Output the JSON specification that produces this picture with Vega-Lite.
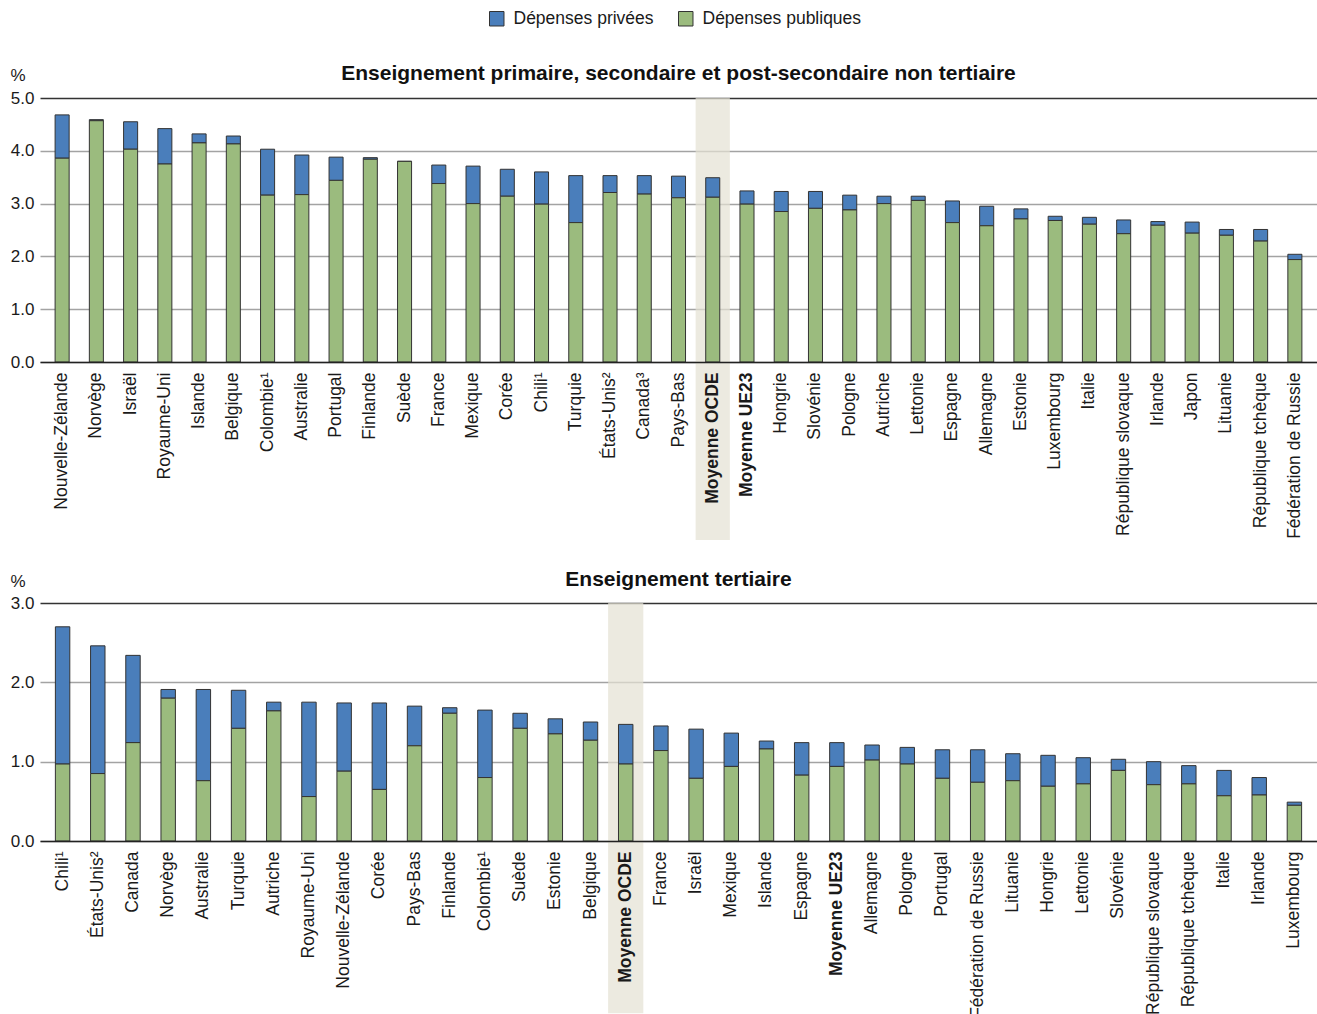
{
  "$schema": "https://vega.github.io/schema/vega-lite/v6.json",
  "padding": 10,
  "spacing": 29,
  "config": {
    "font": "Liberation Sans",
    "view": {"stroke": null},
    "axis": {"labelColor": "#1a1a1a", "titleColor": "#1a1a1a"}
  },
  "vconcat": [
    {
      "data": {"values": [
        {"pays": "Nouvelle-Zélande", "pub": 3.86, "priv": 0.82},
        {"pays": "Norvège", "pub": 4.57, "priv": 0.02},
        {"pays": "Israël", "pub": 4.03, "priv": 0.52},
        {"pays": "Royaume-Uni", "pub": 3.75, "priv": 0.67},
        {"pays": "Islande", "pub": 4.15, "priv": 0.17},
        {"pays": "Belgique", "pub": 4.13, "priv": 0.15},
        {"pays": "Colombie¹", "pub": 3.16, "priv": 0.87},
        {"pays": "Australie", "pub": 3.17, "priv": 0.75},
        {"pays": "Portugal", "pub": 3.44, "priv": 0.44},
        {"pays": "Finlande", "pub": 3.84, "priv": 0.03},
        {"pays": "Suède", "pub": 3.8, "priv": 0.0},
        {"pays": "France", "pub": 3.38, "priv": 0.35},
        {"pays": "Mexique", "pub": 3.0, "priv": 0.71},
        {"pays": "Corée", "pub": 3.14, "priv": 0.51},
        {"pays": "Chili¹", "pub": 2.99, "priv": 0.61},
        {"pays": "Turquie", "pub": 2.64, "priv": 0.89},
        {"pays": "États-Unis²", "pub": 3.21, "priv": 0.32},
        {"pays": "Canada³", "pub": 3.18, "priv": 0.35},
        {"pays": "Pays-Bas", "pub": 3.11, "priv": 0.41},
        {"pays": "Moyenne OCDE", "pub": 3.12, "priv": 0.37},
        {"pays": "Moyenne UE23", "pub": 2.99, "priv": 0.25},
        {"pays": "Hongrie", "pub": 2.85, "priv": 0.38},
        {"pays": "Slovénie", "pub": 2.91, "priv": 0.32},
        {"pays": "Pologne", "pub": 2.88, "priv": 0.28},
        {"pays": "Autriche", "pub": 3.0, "priv": 0.14},
        {"pays": "Lettonie", "pub": 3.06, "priv": 0.08},
        {"pays": "Espagne", "pub": 2.64, "priv": 0.41},
        {"pays": "Allemagne", "pub": 2.58, "priv": 0.37},
        {"pays": "Estonie", "pub": 2.71, "priv": 0.19},
        {"pays": "Luxembourg", "pub": 2.68, "priv": 0.08},
        {"pays": "Italie", "pub": 2.61, "priv": 0.13},
        {"pays": "République slovaque", "pub": 2.43, "priv": 0.26},
        {"pays": "Irlande", "pub": 2.59, "priv": 0.07},
        {"pays": "Japon", "pub": 2.44, "priv": 0.21},
        {"pays": "Lituanie", "pub": 2.4, "priv": 0.11},
        {"pays": "République tchèque", "pub": 2.29, "priv": 0.22},
        {"pays": "Fédération de Russie", "pub": 1.94, "priv": 0.1}
      ]},
      "transform": [{"fold": ["priv", "pub"], "as": ["type", "v"]}],
      "width": 1277,
      "height": 264,
      "title": {"text": "Enseignement primaire, secondaire et post-secondaire non tertiaire", "fontSize": 21, "fontWeight": "bold", "color": "#111", "frame": "group", "anchor": "middle", "offset": -18},
      "encoding": {
        "x": {
          "field": "pays", "type": "nominal", "sort": null,
          "scale": {"paddingInner": 0, "paddingOuter": 0.146},
          "axis": {
            "title": null, "labelAngle": -90, "labelAlign": "right", "labelBaseline": "middle",
            "labelFontSize": 17.5, "labelLimit": 400, "labelPadding": 10, "labelOverlap": false,
            "labelFontWeight": {"condition": {"test": "indexof(datum.value, 'Moyenne') >= 0", "value": "bold"}, "value": "normal"},
            "ticks": false, "domainColor": "#222", "domainWidth": 1.5, "zindex": 1
          }
        }
      },
      "layer": [
        {
          "mark": {"type": "bar", "fill": "#E4E1D3"},
          "encoding": {
            "y": {"datum": 5, "type": "quantitative"},
            "y2": {"datum": -3.37},
            "opacity": {"condition": {"test": "datum.pays === 'Moyenne OCDE' && datum.type === 'pub'", "value": 0.7}, "value": 0}
          }
        },
        {
          "mark": {"type": "bar", "stroke": "#333", "strokeWidth": 1, "width": {"band": 0.41}},
          "encoding": {
            "y": {
              "field": "v", "type": "quantitative", "stack": "zero",
              "scale": {"domain": [0, 5], "nice": false, "zero": true},
              "axis": {
                "values": [0, 0.5, 1, 1.5, 2, 2.5, 3, 3.5, 4, 4.5, 5], "format": ".1f",
                "grid": true, "gridWidth": 1.5, "labelOverlap": false,
                "gridColor": {"condition": {"test": "datum.value == 5", "value": "#333"}, "value": "#a3a3a3"},
                "domain": false, "ticks": false, "labelPadding": 6, "labelFontSize": 17,
                "title": "%", "titleAngle": 0, "titleX": -30, "titleY": -18, "titleAlign": "left", "titleBaseline": "alphabetic",
                "titleFontWeight": "normal", "titleFontSize": 17
              }
            },
            "color": {
              "field": "type", "type": "nominal",
              "scale": {"domain": ["priv", "pub"], "range": ["#4A7EBB", "#9BBB7E"]},
              "legend": {"title": null, "orient": "none", "legendX": 448, "legendY": -88, "direction": "horizontal",
                "labelExpr": "datum.label === 'priv' ? 'Dépenses privées' : 'Dépenses publiques'",
                "symbolType": "square", "symbolSize": 210, "symbolStrokeColor": "#333", "symbolStrokeWidth": 1,
                "labelFontSize": 17.5, "labelColor": "#1a1a1a", "labelOffset": 8, "columnPadding": 22}
            }
          }
        }
      ]
    },
    {
      "data": {"values": [
        {"pays": "Chili¹", "pub": 0.97, "priv": 1.73},
        {"pays": "États-Unis²", "pub": 0.85, "priv": 1.61},
        {"pays": "Canada", "pub": 1.24, "priv": 1.1},
        {"pays": "Norvège", "pub": 1.8, "priv": 0.11},
        {"pays": "Australie", "pub": 0.76, "priv": 1.15},
        {"pays": "Turquie", "pub": 1.42, "priv": 0.48},
        {"pays": "Autriche", "pub": 1.64, "priv": 0.11},
        {"pays": "Royaume-Uni", "pub": 0.56, "priv": 1.19},
        {"pays": "Nouvelle-Zélande", "pub": 0.88, "priv": 0.86},
        {"pays": "Corée", "pub": 0.65, "priv": 1.09},
        {"pays": "Pays-Bas", "pub": 1.2, "priv": 0.5},
        {"pays": "Finlande", "pub": 1.61, "priv": 0.07},
        {"pays": "Colombie¹", "pub": 0.8, "priv": 0.85},
        {"pays": "Suède", "pub": 1.42, "priv": 0.19},
        {"pays": "Estonie", "pub": 1.35, "priv": 0.19},
        {"pays": "Belgique", "pub": 1.27, "priv": 0.23},
        {"pays": "Moyenne OCDE", "pub": 0.97, "priv": 0.5},
        {"pays": "France", "pub": 1.14, "priv": 0.31},
        {"pays": "Israël", "pub": 0.79, "priv": 0.62},
        {"pays": "Mexique", "pub": 0.94, "priv": 0.42},
        {"pays": "Islande", "pub": 1.16, "priv": 0.1},
        {"pays": "Espagne", "pub": 0.83, "priv": 0.41},
        {"pays": "Moyenne UE23", "pub": 0.94, "priv": 0.3},
        {"pays": "Allemagne", "pub": 1.02, "priv": 0.19},
        {"pays": "Pologne", "pub": 0.97, "priv": 0.21},
        {"pays": "Portugal", "pub": 0.79, "priv": 0.36},
        {"pays": "Fédération de Russie", "pub": 0.74, "priv": 0.41},
        {"pays": "Lituanie", "pub": 0.76, "priv": 0.34},
        {"pays": "Hongrie", "pub": 0.69, "priv": 0.39},
        {"pays": "Lettonie", "pub": 0.72, "priv": 0.33},
        {"pays": "Slovénie", "pub": 0.89, "priv": 0.14},
        {"pays": "République slovaque", "pub": 0.71, "priv": 0.29},
        {"pays": "République tchèque", "pub": 0.72, "priv": 0.23},
        {"pays": "Italie", "pub": 0.57, "priv": 0.32},
        {"pays": "Irlande", "pub": 0.58, "priv": 0.22},
        {"pays": "Luxembourg", "pub": 0.45, "priv": 0.04}
      ]},
      "transform": [{"fold": ["priv", "pub"], "as": ["type", "v"]}],
      "width": 1277,
      "height": 238,
      "title": {"text": "Enseignement tertiaire", "fontSize": 21, "fontWeight": "bold", "color": "#111", "frame": "group", "anchor": "middle", "offset": -18},
      "encoding": {
        "x": {
          "field": "pays", "type": "nominal", "sort": null,
          "scale": {"paddingInner": 0, "paddingOuter": 0.142},
          "axis": {
            "title": null, "labelAngle": -90, "labelAlign": "right", "labelBaseline": "middle",
            "labelFontSize": 17.5, "labelLimit": 400, "labelPadding": 10, "labelOverlap": false,
            "labelFontWeight": {"condition": {"test": "indexof(datum.value, 'Moyenne') >= 0", "value": "bold"}, "value": "normal"},
            "ticks": false, "domainColor": "#222", "domainWidth": 1.5, "zindex": 1
          }
        }
      },
      "layer": [
        {
          "mark": {"type": "bar", "fill": "#E4E1D3"},
          "encoding": {
            "y": {"datum": 3, "type": "quantitative"},
            "y2": {"datum": -2.17},
            "opacity": {"condition": {"test": "datum.pays === 'Moyenne OCDE' && datum.type === 'pub'", "value": 0.7}, "value": 0}
          }
        },
        {
          "mark": {"type": "bar", "stroke": "#333", "strokeWidth": 1, "width": {"band": 0.41}},
          "encoding": {
            "y": {
              "field": "v", "type": "quantitative", "stack": "zero",
              "scale": {"domain": [0, 3], "nice": false, "zero": true},
              "axis": {
                "values": [0, 0.5, 1, 1.5, 2, 2.5, 3], "format": ".1f",
                "grid": true, "gridWidth": 1.5, "labelOverlap": false,
                "gridColor": {"condition": {"test": "datum.value == 3", "value": "#333"}, "value": "#a3a3a3"},
                "domain": false, "ticks": false, "labelPadding": 6, "labelFontSize": 17,
                "title": "%", "titleAngle": 0, "titleX": -30, "titleY": -17, "titleAlign": "left", "titleBaseline": "alphabetic",
                "titleFontWeight": "normal", "titleFontSize": 17
              }
            },
            "color": {
              "field": "type", "type": "nominal",
              "scale": {"domain": ["priv", "pub"], "range": ["#4A7EBB", "#9BBB7E"]},
              "legend": {"title": null, "orient": "none", "legendX": 448, "legendY": -88, "direction": "horizontal",
                "labelExpr": "datum.label === 'priv' ? 'Dépenses privées' : 'Dépenses publiques'",
                "symbolType": "square", "symbolSize": 210, "symbolStrokeColor": "#333", "symbolStrokeWidth": 1,
                "labelFontSize": 17.5, "labelColor": "#1a1a1a", "labelOffset": 8, "columnPadding": 22}
            }
          }
        }
      ]
    }
  ]
}
